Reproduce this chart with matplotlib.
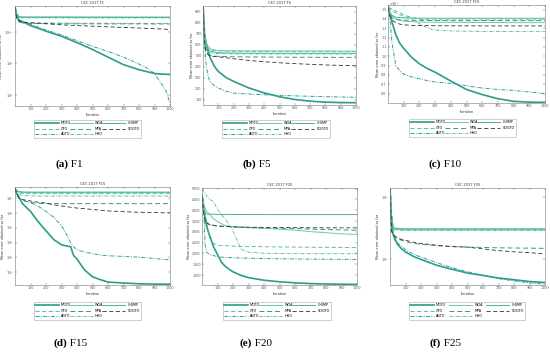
import matplotlib
matplotlib.use("Agg")
import matplotlib.pyplot as plt
from matplotlib.ticker import FixedLocator, NullLocator, LogFormatterMathtext, FuncFormatter

# ---------------- data ----------------
algos = ["MGTO", "GTO", "AGTO", "WOA", "MPA", "HHO", "CHIMP", "SOGTO"]
x_ticks = [100, 200, 300, 400, 500, 600, 700, 800, 900, 1000]
titles = ["CEC 2017 F1", "CEC 2017 F5", "CEC 2017 F10",
          "CEC 2017 F15", "CEC 2017 F20", "CEC 2017 F25"]
captions = [("(a)", " F1"), ("(b)", " F5"), ("(c)", " F10"),
            ("(d)", " F15"), ("(e)", " F20"), ("(f)", " F25")]

# F1 (log scale)
it_f1 = [1, 10, 25, 50, 100, 200, 300, 400, 500, 600, 700, 800, 850, 900, 950, 975, 1000]
f1_s1 = [7.9e13, 4.0e12, 7.9e11, 4.0e11, 1.0e11, 1.3e10, 2.0e9, 2.0e8, 1.6e7, 1.0e6, 6.3e4, 1.0e4, 5.0e3, 2.5e3, 2.0e3, 1.9e3, 1.8e3]
f1_s2 = [7.9e13, 2.0e12, 4.0e11, 2.8e11, 2.6e11, 2.5e11, 2.45e11, 2.4e11, 2.35e11, 2.3e11, 2.3e11, 2.25e11, 2.25e11, 2.2e11, 2.2e11, 2.2e11, 2.2e11]
f1_s3 = [7.9e13, 4.0e12, 7.9e11, 4.0e11, 1.6e11, 2.0e10, 3.2e9, 4.0e8, 5.0e7, 7.9e6, 1.0e6, 7.9e4, 2.0e4, 2.5e3, 40, 4.0, 0.05]
f1_s4 = [1.0e14, 6.3e12, 2.2e12, 2.0e12, 2.0e12, 2.0e12, 2.0e12, 2.0e12, 1.95e12, 1.95e12, 1.95e12, 1.9e12, 1.9e12, 1.9e12, 1.9e12, 1.9e12, 1.9e12]
f1_s5 = [7.9e13, 1.6e12, 4.0e11, 2.5e11, 2.1e11, 2.0e11, 1.95e11, 1.9e11, 1.9e11, 1.85e11, 1.85e11, 1.85e11, 1.8e11, 1.8e11, 1.8e11, 1.8e11, 1.8e11]
f1_s6 = [7.9e13, 5.0e12, 1.8e12, 1.7e12, 1.7e12, 1.65e12, 1.65e12, 1.6e12, 1.6e12, 1.6e12, 1.6e12, 1.6e12, 1.6e12, 1.6e12, 1.6e12, 1.6e12, 1.6e12]
f1_s7 = [1.0e14, 1.0e13, 2.5e12, 2.3e12, 2.3e12, 2.3e12, 2.3e12, 2.25e12, 2.25e12, 2.25e12, 2.2e12, 2.2e12, 2.2e12, 2.2e12, 2.2e12, 2.2e12, 2.2e12]
f1_s8 = [7.9e13, 1.6e12, 5.0e11, 3.5e11, 2.8e11, 2.0e11, 1.3e11, 1.0e11, 7.9e10, 6.3e10, 5.0e10, 4.0e10, 3.5e10, 3.2e10, 2.8e10, 2.6e10, 2.5e10]

# F5 (linear)
it_f5 = [1, 10, 20, 35, 50, 75, 100, 150, 200, 300, 400, 500, 600, 700, 800, 900, 1000]
f5_s1 = [940, 700, 610, 530, 470, 400, 355, 300, 265, 205, 160, 125, 100, 85, 76, 72, 71]
f5_s2 = [940, 650, 580, 560, 550, 545, 542, 540, 538, 537, 536, 536, 535, 535, 535, 535, 535]
f5_s3 = [940, 600, 420, 300, 255, 225, 205, 175, 158, 150, 143, 138, 133, 129, 126, 123, 120]
f5_s4 = [940, 700, 620, 580, 560, 550, 546, 544, 543, 542, 542, 541, 541, 541, 541, 540, 540]
f5_s5 = [940, 620, 540, 510, 500, 495, 492, 490, 488, 487, 486, 485, 484, 484, 483, 483, 483]
f5_s6 = [940, 640, 560, 535, 525, 520, 518, 516, 515, 515, 514, 514, 514, 514, 514, 514, 514]
f5_s7 = [940, 680, 590, 555, 540, 530, 526, 523, 522, 521, 521, 520, 520, 520, 520, 520, 520]
f5_s8 = [940, 600, 530, 505, 495, 490, 488, 480, 470, 455, 443, 434, 426, 420, 414, 410, 407]

# F10 (linear)
it_f10 = [1, 10, 25, 50, 75, 100, 150, 200, 250, 300, 400, 500, 600, 700, 800, 900, 1000]
f10_s1 = [15400, 14700, 13700, 12300, 11400, 10850, 9900, 9200, 8700, 8300, 7350, 6450, 5900, 5460, 5180, 5090, 5070]
f10_s2 = [15300, 15200, 15050, 14850, 14650, 14450, 14150, 13980, 13920, 13900, 13900, 13900, 13900, 13900, 13900, 13900, 13900]
f10_s3 = [15400, 14600, 11500, 9000, 8450, 8100, 7800, 7600, 7400, 7250, 7100, 6850, 6600, 6450, 6350, 6180, 6000]
f10_s4 = [15300, 14700, 14300, 14000, 13850, 13780, 13720, 13680, 13660, 13650, 13640, 13630, 13620, 13620, 13610, 13610, 13610]
f10_s5 = [15200, 14500, 14100, 13950, 13900, 13880, 13860, 13850, 13840, 13840, 13830, 13830, 13830, 13830, 13830, 13830, 13830]
f10_s6 = [15200, 15100, 14900, 14650, 14450, 14300, 14000, 13500, 13050, 12800, 12720, 12690, 12670, 12660, 12650, 12650, 12650]
f10_s7 = [15400, 14800, 14400, 14200, 14150, 14120, 14100, 14090, 14080, 14080, 14080, 14080, 14080, 14080, 14080, 14080, 14080]
f10_s8 = [15200, 14400, 13900, 13600, 13450, 13380, 13320, 13300, 13290, 13280, 13270, 13270, 13260, 13260, 13260, 13260, 13260]

# F15 (log scale)
it_f15 = [1, 10, 25, 50, 100, 150, 200, 250, 300, 330, 360, 375, 385, 400, 425, 450, 500, 550, 600, 700, 800, 900, 1000]
f15_s1 = [4.5e9, 2.0e9, 1.1e9, 4.0e8, 1.26e8, 2.5e7, 6.3e6, 1.6e6, 7.1e5, 6.0e5, 5.2e5, 1.6e5, 1.1e5, 7.9e4, 3.2e4, 1.4e4, 5.0e3, 3.2e3, 2.2e3, 1.9e3, 1.7e3, 1.6e3, 1.6e3]
f15_s2 = [4.5e9, 2.8e9, 2.2e9, 2.0e9, 1.95e9, 1.95e9, 1.95e9, 1.95e9, 1.95e9, 1.95e9, 1.95e9, 1.95e9, 1.95e9, 1.95e9, 1.95e9, 1.95e9, 1.95e9, 1.95e9, 1.95e9, 1.95e9, 1.95e9, 1.95e9, 1.95e9]
f15_s3 = [4.5e9, 2.0e9, 1.1e9, 7.1e8, 4.8e8, 2.8e8, 1.26e8, 5.0e7, 1.4e7, 4.0e6, 8.9e5, 5.6e5, 4.5e5, 3.5e5, 2.7e5, 2.3e5, 1.8e5, 1.45e5, 1.3e5, 1.17e5, 1.05e5, 8.5e4, 6.8e4]
f15_s4 = [4.5e9, 3.0e9, 2.5e9, 2.35e9, 2.3e9, 2.3e9, 2.3e9, 2.3e9, 2.3e9, 2.3e9, 2.3e9, 2.3e9, 2.3e9, 2.3e9, 2.3e9, 2.3e9, 2.3e9, 2.3e9, 2.3e9, 2.3e9, 2.3e9, 2.3e9, 2.3e9]
f15_s5 = [4.5e9, 2.0e9, 1.0e9, 7.0e8, 5.0e8, 4.4e8, 4.2e8, 4.2e8, 4.2e8, 4.2e8, 4.2e8, 4.2e8, 4.2e8, 4.2e8, 4.2e8, 4.2e8, 4.2e8, 4.2e8, 4.2e8, 4.2e8, 4.2e8, 4.2e8, 4.2e8]
f15_s6 = [4.5e9, 2.5e9, 1.7e9, 1.45e9, 1.38e9, 1.35e9, 1.35e9, 1.35e9, 1.35e9, 1.35e9, 1.35e9, 1.35e9, 1.35e9, 1.35e9, 1.35e9, 1.35e9, 1.35e9, 1.35e9, 1.35e9, 1.35e9, 1.35e9, 1.35e9, 1.35e9]
f15_s7 = [4.5e9, 3.2e9, 2.7e9, 2.55e9, 2.5e9, 2.5e9, 2.5e9, 2.5e9, 2.5e9, 2.5e9, 2.5e9, 2.5e9, 2.5e9, 2.5e9, 2.5e9, 2.5e9, 2.5e9, 2.5e9, 2.5e9, 2.5e9, 2.5e9, 2.5e9, 2.5e9]
f15_s8 = [4.5e9, 2.0e9, 1.0e9, 7.9e8, 6.3e8, 5.2e8, 4.5e8, 3.5e8, 2.9e8, 2.6e8, 2.4e8, 2.2e8, 2.2e8, 2.1e8, 2.0e8, 1.9e8, 1.7e8, 1.5e8, 1.35e8, 1.2e8, 1.1e8, 1.05e8, 1.0e8]

# F20 (linear)
it_f20 = [1, 10, 20, 30, 50, 75, 100, 125, 150, 175, 200, 250, 300, 400, 500, 600, 700, 800, 900, 1000]
f20_s1 = [4700, 4100, 3650, 3250, 2800, 2300, 1950, 1600, 1400, 1270, 1150, 990, 880, 760, 690, 640, 605, 585, 575, 569]
f20_s2 = [4600, 4300, 3950, 3400, 2700, 2450, 2390, 2370, 2360, 2350, 2340, 2330, 2320, 2310, 2300, 2295, 2290, 2285, 2280, 2277]
f20_s3 = [4600, 4400, 2400, 2050, 1960, 1900, 1850, 1830, 1820, 1810, 1800, 1790, 1780, 1765, 1755, 1745, 1738, 1732, 1727, 1723]
f20_s4 = [4600, 4300, 4100, 3950, 3800, 3600, 3480, 3380, 3300, 3260, 3230, 3210, 3190, 3160, 3125, 3080, 3010, 2960, 2910, 2877]
f20_s5 = [4600, 4000, 3600, 3450, 3350, 3300, 3280, 3260, 3250, 3240, 3230, 3220, 3210, 3190, 3170, 3150, 3130, 3110, 3090, 3077]
f20_s6 = [5000, 4900, 4800, 4650, 4500, 4400, 4050, 3800, 3600, 3350, 3050, 2200, 2060, 2010, 1998, 1993, 1990, 1988, 1986, 1985]
f20_s7 = [4400, 4000, 3850, 3830, 3820, 3815, 3810, 3808, 3806, 3805, 3804, 3803, 3802, 3801, 3800, 3800, 3800, 3800, 3800, 3800]
f20_s8 = [4600, 3900, 3500, 3400, 3330, 3290, 3270, 3260, 3250, 3240, 3230, 3220, 3215, 3205, 3200, 3195, 3190, 3188, 3186, 3185]

# F25 (log scale)
it_f25 = [1, 5, 10, 20, 30, 50, 75, 100, 150, 200, 300, 400, 500, 600, 700, 800, 900, 1000]
f25_s1 = [1.35e4, 6.0e3, 3.8e3, 2.5e3, 2.1e3, 1.7e3, 1.45e3, 1.29e3, 1.1e3, 980, 790, 680, 590, 540, 490, 460, 430, 415]
f25_s2 = [1.35e4, 1.1e4, 6.0e3, 3.4e3, 3.05e3, 2.98e3, 2.96e3, 2.95e3, 2.95e3, 2.95e3, 2.95e3, 2.95e3, 2.95e3, 2.95e3, 2.95e3, 2.95e3, 2.95e3, 2.95e3]
f25_s3 = [1.35e4, 7.1e3, 4.2e3, 2.7e3, 2.2e3, 1.8e3, 1.6e3, 1.4e3, 1.2e3, 1.07e3, 870, 720, 620, 540, 480, 440, 410, 390]
f25_s4 = [1.35e4, 8.5e3, 4.6e3, 3.2e3, 3.06e3, 3.02e3, 3.01e3, 3.0e3, 3.0e3, 3.0e3, 3.0e3, 3.0e3, 3.0e3, 3.0e3, 3.0e3, 3.0e3, 3.0e3, 3.0e3]
f25_s5 = [1.35e4, 6.3e3, 2.8e3, 2.4e3, 2.24e3, 2.1e3, 2.0e3, 1.9e3, 1.78e3, 1.72e3, 1.64e3, 1.58e3, 1.55e3, 1.53e3, 1.51e3, 1.5e3, 1.49e3, 1.48e3]
f25_s6 = [1.35e4, 8.0e3, 4.4e3, 3.1e3, 2.95e3, 2.9e3, 2.89e3, 2.88e3, 2.88e3, 2.88e3, 2.88e3, 2.88e3, 2.88e3, 2.88e3, 2.88e3, 2.88e3, 2.88e3, 2.88e3]
f25_s7 = [1.35e4, 9.0e3, 5.0e3, 3.3e3, 3.15e3, 3.1e3, 3.08e3, 3.07e3, 3.06e3, 3.06e3, 3.06e3, 3.06e3, 3.06e3, 3.06e3, 3.06e3, 3.06e3, 3.06e3, 3.06e3]
f25_s8 = [1.35e4, 6.3e3, 2.8e3, 2.5e3, 2.35e3, 2.2e3, 2.05e3, 2.0e3, 1.86e3, 1.78e3, 1.66e3, 1.58e3, 1.55e3, 1.45e3, 1.36e3, 1.3e3, 1.26e3, 1.2e3]

# ---------------- styling ----------------
colors = ["#2b9c8c", "#3db5a5", "#33a090", "#6cc9a2", "#3a9a72", "#4fb0a2", "#48b39a", "#333333"]
styles = ["-", (0, (5, 3)), (0, (4, 1.5, 1, 1.5)), "-", (0, (5, 3)), (0, (4, 1.5, 1, 1.5)), "-", (0, (5, 3))]
widths = [1.2, 0.6, 0.7, 0.7, 0.7, 0.6, 0.7, 0.6]

W, H = 550.0, 353.0
def rect(l, r, t, b):
    return [l / W, 1 - b / H, (r - l) / W, (b - t) / H]

panels = [
    dict(it=it_f1, s=[f1_s1, f1_s2, f1_s3, f1_s4, f1_s5, f1_s6, f1_s7, f1_s8], log=True,
         ylim=(0.0178, 1.26e14), yt=[1e0, 1e5, 1e10], ax=rect(15, 170, 6, 106),
         leg=(32, 143, 118), cap=(68, 167)),
    dict(it=it_f5, s=[f5_s1, f5_s2, f5_s3, f5_s4, f5_s5, f5_s6, f5_s7, f5_s8], log=False,
         ylim=(50, 950), yt=[100, 200, 300, 400, 500, 600, 700, 800, 900], ax=rect(203, 356, 6, 105),
         leg=(220, 332, 118), cap=(256, 167)),
    dict(it=it_f10, s=[f10_s1, f10_s2, f10_s3, f10_s4, f10_s5, f10_s6, f10_s7, f10_s8], log=False,
         ylim=(5000, 15500), yt=[6000, 7000, 8000, 9000, 10000, 11000, 12000, 13000, 14000, 15000],
         ax=rect(388, 545, 5, 103), leg=(407, 518, 117), cap=(441, 167), sci=True),
    dict(it=it_f15, s=[f15_s1, f15_s2, f15_s3, f15_s4, f15_s5, f15_s6, f15_s7, f15_s8], log=True,
         ylim=(1.4e3, 5.5e9), yt=[1e4, 1e5, 1e6, 1e7, 1e8, 1e9], ax=rect(15, 170, 187, 285),
         leg=(32, 143, 300), cap=(67, 346)),
    dict(it=it_f20, s=[f20_s1, f20_s2, f20_s3, f20_s4, f20_s5, f20_s6, f20_s7, f20_s8], log=False,
         ylim=(540, 5030), yt=[1000, 1500, 2000, 2500, 3000, 3500, 4000, 4500, 5000],
         ax=rect(202, 357, 188, 285), leg=(221, 333, 300), cap=(252, 346)),
    dict(it=it_f25, s=[f25_s1, f25_s2, f25_s3, f25_s4, f25_s5, f25_s6, f25_s7, f25_s8], log=True,
         ylim=(378, 1.4e4), yt=[1e3, 1e4], ax=rect(390, 545, 188, 285),
         leg=(407, 527, 300), cap=(441, 346)),
]

fig = plt.figure(figsize=(5.5, 3.53), dpi=100)
fs = 2.4
for k, p in enumerate(panels):
    ax = fig.add_axes(p["ax"])
    for j in range(8):
        ax.plot(p["it"], p["s"][j], color=colors[j], linestyle=styles[j],
                linewidth=widths[j], label=algos[j])
    if p["log"]:
        ax.set_yscale("log")
        ax.yaxis.set_major_locator(FixedLocator(p["yt"]))
        ax.yaxis.set_major_formatter(LogFormatterMathtext())
        ax.yaxis.set_minor_locator(NullLocator())
    else:
        ax.yaxis.set_major_locator(FixedLocator(p["yt"]))
        if p.get("sci"):
            ax.yaxis.set_major_formatter(FuncFormatter(lambda v, pos: f"{v / 1e4:.1f}"))
            fig.text(p["ax"][0] + 0.002, 1 - 0.8 / H, r"$\times10^{4}$", ha="left", va="top",
                     fontsize=fs, color="#555555")
    ax.set_ylim(*p["ylim"])
    ax.set_xlim(0, 1000)
    ax.set_xticks(x_ticks)
    ax.tick_params(direction="in", top=True, right=True, labelsize=fs,
                   length=1.5, width=0.3, pad=1, colors="#555555")
    for sp in ax.spines.values():
        sp.set_linewidth(0.4)
        sp.set_color("#777777")
    ax.set_title(titles[k], fontsize=fs + 0.2, pad=1.5, color="#333333")
    ax.set_xlabel("Iteration", fontsize=fs, labelpad=1, color="#333333")
    ax.set_ylabel("Mean error obtained so far", fontsize=fs, labelpad=1, color="#333333")
    l, r, t = p["leg"]
    ax.legend(loc="upper left", bbox_to_anchor=(l / W, 1 - t / H, (r - l) / W, 0.0),
              bbox_transform=fig.transFigure, mode="expand", ncol=3, fontsize=fs,
              handlelength=7, handletextpad=0.6, columnspacing=1.0, labelspacing=0.45,
              borderpad=0.5, frameon=True, fancybox=False, edgecolor="#aaaaaa",
              framealpha=1).get_frame().set_linewidth(0.4)
    cx, cy = p["cap"]
    a, b = captions[k]
    fig.text(cx / W, 1 - cy / H, a, ha="right", va="baseline", fontsize=8,
             fontweight="bold", family="Liberation Serif")
    fig.text(cx / W, 1 - cy / H, b, ha="left", va="baseline", fontsize=8,
             family="Liberation Serif")

fig.savefig("out.png", dpi=100)
